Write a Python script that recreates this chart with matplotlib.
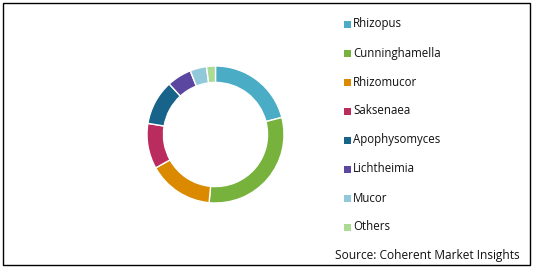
import matplotlib
matplotlib.use("Agg")
import matplotlib.pyplot as plt
from matplotlib.patches import Rectangle

categories = ["Rhizopus", "Cunninghamella", "Rhizomucor", "Saksenaea",
              "Apophysomyces", "Lichtheimia", "Mucor", "Others"]
values = [21.0, 30.5, 15.4, 10.7, 10.6, 5.8, 3.9, 2.1]
colors = ["#4BACC6", "#77B23C", "#DB8A00", "#BB2C5E",
          "#17638A", "#5B46A0", "#92C9DA", "#ACDB93"]
source = "Source: Coherent Market Insights"

W, H = 534, 269
fig = plt.figure(figsize=(W / 100, H / 100), dpi=100)
fig.patch.set_facecolor("white")

cx, cy, r = 215.5, 134.5, 68.5
half = 72
ax = fig.add_axes([(cx - half) / W, (H - cy - half) / H, 2 * half / W, 2 * half / H])
ax.pie(values, colors=colors, startangle=90, counterclock=False, radius=1,
       wedgeprops=dict(width=0.24, edgecolor="white", linewidth=1.0))
lim = half / r
ax.set_xlim(-lim, lim)
ax.set_ylim(-lim, lim)
ax.set_aspect("equal")
ax.axis("off")

font = "Open Sans"
y0, dy = 24.0, 29.0
for i, (cat, col) in enumerate(zip(categories, colors)):
    y = y0 + i * dy
    fig.add_artist(Rectangle((344 / W, (H - y - 3.5) / H), 7 / W, 7 / H,
                             transform=fig.transFigure, facecolor=col, edgecolor="none"))
    fig.text(353 / W, (H - y) / H, cat, fontsize=8.3, family=font,
             va="center", ha="left", color="#111111")

fig.text(520 / W, (H - 256) / H, source, fontsize=8.6, family=font,
         va="center", ha="right", color="#111111")

fig.add_artist(Rectangle((3 / W, 4 / H), (530 - 3) / W, (265 - 3) / H,
                         transform=fig.transFigure, fill=False,
                         edgecolor="black", linewidth=1.0))

fig.savefig("out.png", dpi=100)
